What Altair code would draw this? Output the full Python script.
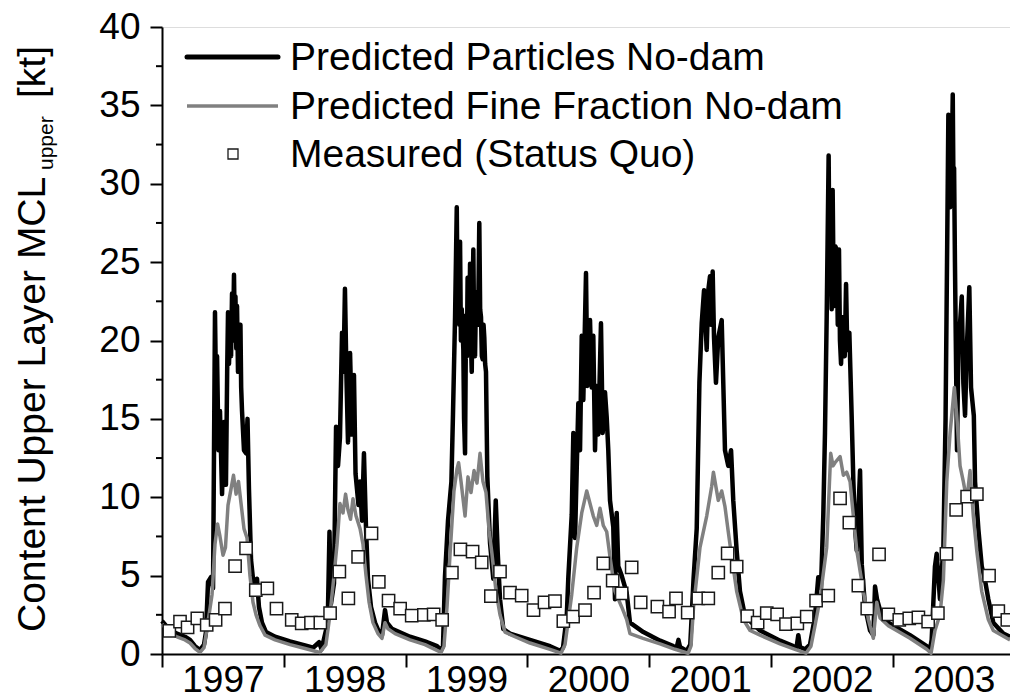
import altair as alt
import pandas as pd

# ---------------- data ----------------
# Predicted Particles No-dam (black)
black_t = [
    1997.000, 1997.066, 1997.123, 1997.189, 1997.230, 1997.271, 1997.312, 1997.345, 1997.361, 1997.378,
    1997.402, 1997.419, 1997.435, 1997.443, 1997.452, 1997.464, 1997.476, 1997.493, 1997.509, 1997.525,
    1997.535, 1997.542, 1997.550, 1997.558, 1997.567, 1997.575, 1997.583, 1997.591, 1997.597, 1997.603,
    1997.610, 1997.616, 1997.624, 1997.632, 1997.644, 1997.650, 1997.657, 1997.673, 1997.690, 1997.702,
    1997.714, 1997.731, 1997.747, 1997.764, 1997.780, 1997.796, 1997.821, 1997.854, 1997.928,
    1998.051, 1998.174, 1998.240, 1998.290, 1998.310, 1998.346, 1998.363, 1998.375, 1998.387, 1998.412,
    1998.429, 1998.445, 1998.461, 1998.478, 1998.490, 1998.502, 1998.515, 1998.527, 1998.544, 1998.560,
    1998.576, 1998.589, 1998.601, 1998.613, 1998.626, 1998.642, 1998.658, 1998.675, 1998.691, 1998.716,
    1998.749, 1998.782, 1998.806, 1998.831, 1998.847, 1998.888, 1999.036, 1999.159, 1999.258, 1999.291,
    1999.307, 1999.323, 1999.348, 1999.376, 1999.389, 1999.406, 1999.420, 1999.427, 1999.435, 1999.441,
    1999.447, 1999.454, 1999.461, 1999.474, 1999.480, 1999.488, 1999.496, 1999.503, 1999.509, 1999.515,
    1999.522, 1999.529, 1999.536, 1999.543, 1999.550, 1999.556, 1999.563, 1999.570, 1999.577, 1999.584,
    1999.595, 1999.605, 1999.612, 1999.619, 1999.626, 1999.633, 1999.640, 1999.646, 1999.653, 1999.660,
    1999.671, 1999.693, 1999.720, 1999.740, 1999.756, 1999.775, 1999.802, 1999.857, 2000.021, 2000.186,
    2000.268,
    2000.292, 2000.323, 2000.336, 2000.364, 2000.377, 2000.391, 2000.418, 2000.432, 2000.446, 2000.459,
    2000.481, 2000.492, 2000.514, 2000.528, 2000.541, 2000.555, 2000.569, 2000.582, 2000.604, 2000.618,
    2000.637, 2000.651, 2000.664, 2000.678, 2000.705, 2000.719, 2000.733, 2000.746, 2000.774, 2000.815,
    2000.842, 2000.952, 2001.089, 2001.198, 2001.225, 2001.240, 2001.253, 2001.308,
    2001.337, 2001.364, 2001.390, 2001.412, 2001.431, 2001.450, 2001.472, 2001.485, 2001.499, 2001.510,
    2001.521, 2001.532, 2001.548, 2001.567, 2001.595, 2001.608, 2001.622, 2001.649, 2001.672, 2001.690,
    2001.718, 2001.745, 2001.787, 2001.910, 2002.074, 2002.183, 2002.209, 2002.224, 2002.238, 2002.279,
    2002.320, 2002.361, 2002.388, 2002.410, 2002.429, 2002.443, 2002.457, 2002.473, 2002.481, 2002.490,
    2002.498, 2002.506, 2002.513, 2002.519, 2002.529, 2002.539, 2002.548, 2002.558, 2002.566, 2002.575,
    2002.584, 2002.594, 2002.605, 2002.616, 2002.626, 2002.643, 2002.662, 2002.676, 2002.690, 2002.704,
    2002.731, 2002.745, 2002.772, 2002.813, 2002.840, 2002.854, 2002.870, 2002.909, 2002.963, 2003.141,
    2003.278, 2003.305,
    2003.319, 2003.346, 2003.360, 2003.387, 2003.415, 2003.433, 2003.445, 2003.456, 2003.461, 2003.466,
    2003.470, 2003.474, 2003.478, 2003.482, 2003.492, 2003.497, 2003.503, 2003.510, 2003.517, 2003.527,
    2003.538, 2003.566, 2003.579, 2003.593, 2003.607, 2003.628, 2003.642, 2003.665, 2003.675, 2003.703,
    2003.730, 2003.757, 2003.784, 2003.825, 2003.907, 2003.962,
]
black_v = [
    2.1, 1.5, 1.3, 1.1, 0.9, 0.5, 0.25, 0.6, 1.4, 4.6,
    4.9, 4.2, 21.8, 17.0, 19.0, 13.0, 15.5, 10.2, 14.8, 10.8,
    18.0, 21.8, 18.5, 20.5, 19.0, 23.0, 20.0, 24.2, 21.0, 22.8,
    19.5, 22.2, 18.0, 20.5, 21.0, 17.0, 15.5, 13.0, 12.8, 15.0,
    10.5, 6.0, 4.8, 4.0, 4.8, 3.0, 2.0, 1.4, 1.1,
    0.8, 0.55, 0.4, 0.75, 0.3, 1.5, 3.0, 7.8, 3.2, 4.5,
    14.5, 12.0, 13.8, 20.5, 18.0, 23.3, 17.5, 13.5, 19.2, 14.0,
    17.8, 11.5, 10.5, 9.5, 11.0, 8.5, 12.8, 8.0, 4.8, 3.0,
    2.0, 1.4, 1.2, 2.8, 2.0, 1.6, 1.1, 0.8, 0.5, 0.25,
    0.5, 4.9, 8.5, 11.0, 15.3, 21.5, 28.5, 22.0, 25.3, 21.0,
    26.3, 20.0, 22.0, 19.4, 15.0, 12.8, 21.6, 19.0, 24.0, 22.6,
    19.5, 24.9, 20.0, 18.0, 23.0, 25.8, 20.0, 19.0, 22.5, 23.1,
    21.0, 27.5, 22.0, 21.5, 19.0, 18.8, 21.0, 20.2, 18.5, 18.0,
    11.3, 7.1, 4.8, 9.8, 6.5, 3.5, 1.6, 1.3, 0.9, 0.5,
    0.2,
    0.4, 2.4, 4.9, 8.9, 14.1, 7.4, 16.0, 13.0, 20.3, 16.2,
    24.3, 17.1, 21.3, 17.0, 20.3, 13.0, 17.1, 14.0, 21.1, 14.1,
    16.7, 15.1, 13.0, 9.8, 8.1, 3.5, 9.0, 5.6, 5.0, 3.9,
    2.0, 1.4, 0.85, 0.5, 0.4, 0.9, 0.45, 0.2,
    0.6, 4.8, 8.0, 17.3, 21.1, 23.2, 19.4, 23.2, 24.1, 21.0,
    24.4, 20.2, 17.3, 20.2, 21.3, 17.3, 13.0, 12.0, 13.0, 9.8,
    6.6, 4.0, 2.4, 1.5, 0.85, 0.5, 0.4, 1.2, 0.45, 0.3,
    0.6, 2.4, 4.9, 4.2, 8.8, 14.1, 21.5, 31.8, 24.0, 25.8,
    22.0, 29.6, 24.0, 22.2, 26.0, 25.8, 21.0, 25.8, 20.0, 18.5,
    20.5, 21.5, 19.0, 23.6, 19.4, 20.5, 15.2, 11.0, 8.0, 6.6,
    11.7, 5.7, 3.0, 1.5, 1.2, 4.3, 3.5, 2.4, 2.0, 1.2,
    0.5, 0.3,
    0.9, 5.6, 6.4, 3.5, 6.8, 15.0, 25.0, 34.4, 29.0, 31.0,
    28.5, 33.0, 29.5, 30.0, 35.7, 30.5, 31.0, 25.0, 20.0, 13.0,
    19.4, 22.8, 17.3, 15.2, 19.4, 23.4, 17.0, 15.2, 11.0, 7.9,
    5.6, 4.7, 3.5, 2.0, 1.3, 1.1,
]

# Predicted Fine Fraction No-dam (grey)
grey_t = [
    1997.000, 1997.066, 1997.123, 1997.189, 1997.230, 1997.271, 1997.312, 1997.345, 1997.369, 1997.411,
    1997.435, 1997.456, 1997.476, 1997.501, 1997.521, 1997.542, 1997.566, 1997.587, 1997.608, 1997.628,
    1997.649, 1997.673, 1997.698, 1997.722, 1997.747, 1997.772, 1997.805, 1997.846, 1997.928, 1998.051,
    1998.174, 1998.297,
    1998.346, 1998.379, 1998.412, 1998.437, 1998.461, 1998.486, 1998.507, 1998.527, 1998.548, 1998.568,
    1998.593, 1998.626, 1998.650, 1998.675, 1998.700, 1998.732, 1998.773, 1998.806, 1998.831, 1998.856,
    1998.913, 1999.036, 1999.159, 1999.291,
    1999.315, 1999.340, 1999.365, 1999.397, 1999.422, 1999.435, 1999.455, 1999.488, 1999.512, 1999.537,
    1999.562, 1999.586, 1999.611, 1999.635, 1999.660, 1999.685, 1999.709, 1999.742, 1999.775, 1999.816,
    1999.898, 2000.021, 2000.186, 2000.276,
    2000.309, 2000.333, 2000.364, 2000.405, 2000.446, 2000.487, 2000.514, 2000.541, 2000.569, 2000.596,
    2000.623, 2000.651, 2000.678, 2000.719, 2000.774, 2000.815, 2000.842, 2000.949, 2001.089, 2001.212,
    2001.319,
    2001.343, 2001.364, 2001.417, 2001.472, 2001.513, 2001.527, 2001.567, 2001.595, 2001.622, 2001.649,
    2001.677, 2001.718, 2001.773, 2001.828, 2001.910, 2002.074, 2002.197, 2002.287,
    2002.328, 2002.361, 2002.402, 2002.457, 2002.490, 2002.509, 2002.525, 2002.567, 2002.594, 2002.621,
    2002.649, 2002.676, 2002.704, 2002.758, 2002.799, 2002.840, 2002.868, 2002.895, 2002.963, 2003.141,
    2003.278, 2003.314,
    2003.346, 2003.387, 2003.415, 2003.443, 2003.470, 2003.505, 2003.525, 2003.552, 2003.579, 2003.607,
    2003.634, 2003.661, 2003.689, 2003.730, 2003.784, 2003.825, 2003.962,
]
grey_v = [
    1.9, 1.3, 1.1, 0.9, 0.7, 0.35, 0.1, 0.4, 1.6, 3.8,
    7.0, 8.3, 7.5, 6.3, 6.8, 9.5, 10.5, 11.4, 10.2, 11.0,
    9.6, 8.0, 7.4, 5.0, 3.3, 2.5, 1.8, 1.2, 0.9, 0.6,
    0.35, 0.1,
    0.6, 2.5, 5.0, 7.0, 9.6, 9.0, 10.2, 9.2, 8.6, 9.9,
    8.8, 8.0, 7.0, 5.0, 3.3, 2.0, 1.3, 1.0, 2.0, 1.6,
    1.3, 0.9, 0.6, 0.1,
    0.5, 3.0, 6.4, 10.4, 11.8, 12.2, 11.0, 8.8, 11.3, 10.3,
    11.7, 10.9, 12.8, 11.0, 10.3, 7.9, 6.4, 4.0, 2.5, 1.4,
    1.1, 0.7, 0.3, 0.05,
    0.6, 2.0, 3.8, 6.8, 9.0, 10.4, 9.6, 8.8, 8.2, 9.3,
    8.2, 7.8, 6.2, 4.0, 3.0, 2.2, 1.3, 1.0, 0.65, 0.3,
    0.05,
    0.5, 3.0, 6.8, 8.8, 10.7, 11.6, 9.8, 10.4, 9.4, 7.8,
    6.2, 4.0, 2.2, 1.5, 1.2, 0.65, 0.3, 0.05,
    0.5, 1.8, 3.5, 6.8, 12.8, 12.0, 12.2, 12.6, 11.4, 11.6,
    11.0, 8.8, 6.6, 4.0, 2.2, 1.0, 3.3, 2.3, 1.8, 1.0,
    0.3, 0.05,
    1.5, 2.5, 4.7, 11.0, 14.1, 17.0, 15.2, 12.0, 11.0, 9.8,
    11.7, 8.8, 6.6, 4.0, 2.2, 1.5, 0.9,
]

# Measured (Status Quo)
meas_t = [
    1997.06, 1997.148, 1997.21, 1997.29, 1997.367, 1997.44, 1997.517, 1997.60, 1997.69, 1997.77,
    1997.865, 1997.94, 1998.065, 1998.147, 1998.223, 1998.30, 1998.38, 1998.456, 1998.53, 1998.61,
    1998.72, 1998.78, 1998.86, 1998.955, 1999.05, 1999.15, 1999.23, 1999.30, 1999.38, 1999.45,
    1999.55, 1999.625, 1999.70, 1999.775, 1999.857, 1999.953, 2000.05, 2000.14, 2000.226, 2000.295,
    2000.375, 2000.473, 2000.547, 2000.623, 2000.70, 2000.774, 2000.856, 2000.93, 2001.067, 2001.163,
    2001.22, 2001.316, 2001.403, 2001.485, 2001.567, 2001.644, 2001.718, 2001.805, 2001.89, 2001.965,
    2002.05, 2002.123, 2002.216, 2002.293, 2002.37, 2002.47, 2002.567, 2002.643, 2002.717, 2002.79,
    2002.887, 2002.963, 2003.053, 2003.135, 2003.21, 2003.29, 2003.37, 2003.44, 2003.52, 2003.61,
    2003.69, 2003.79, 2003.866, 2003.94,
]
meas_v = [
    1.47, 2.06, 1.70, 2.28, 1.85, 2.17, 2.9, 5.6, 6.74, 4.08,
    4.19, 2.9, 2.17, 1.96, 2.0, 2.0, 2.6, 5.25, 3.55, 6.2,
    7.7, 4.6, 3.4, 2.9, 2.45, 2.5, 2.53, 2.17, 5.19, 6.68,
    6.53, 5.85, 3.7, 5.25, 3.91, 3.72, 2.8, 3.3, 3.38, 2.1,
    2.38, 2.8, 3.91, 5.78, 4.68, 3.87, 5.53, 3.3, 3.02, 2.7,
    3.55, 2.64, 3.55, 3.55, 5.19, 6.42, 5.57, 2.42, 2.0, 2.6,
    2.53, 1.91, 1.96, 2.38, 3.4, 3.72, 9.93, 8.38, 4.36, 2.9,
    6.36, 2.53, 2.17, 2.28, 2.34, 2.06, 2.6, 6.38, 9.19, 10.04,
    10.2, 5.0, 2.74, 2.17,
]

years = [1997, 1998, 1999, 2000, 2001, 2002, 2003]
y_major = [0, 5, 10, 15, 20, 25, 30, 35, 40]
y_minor = [2.5, 7.5, 12.5, 17.5, 22.5, 27.5, 32.5, 37.5]
legend_labels = ["Predicted Particles No-dam", "Predicted Fine Fraction No-dam", "Measured (Status Quo)"]

FONT = "Liberation Sans"
X_MIN, X_MAX = 1997.0, 2003.962

# ---------------- chart ----------------
black_df = pd.DataFrame({"t": black_t, "v": black_v})
grey_df = pd.DataFrame({"t": grey_t, "v": grey_v})
meas_df = pd.DataFrame({"t": meas_t, "v": meas_v})
minor_df = pd.DataFrame({"v": y_minor})

xscale = alt.Scale(domain=[X_MIN, X_MAX], nice=False, zero=False)
yscale = alt.Scale(domain=[0, 40], nice=False, zero=True)

x_axis = alt.Axis(
    values=years, format="d", title=None, grid=False,
    domainColor="black", domainWidth=2, tickColor="black", tickWidth=2, tickSize=13,
    labelFont=FONT, labelFontSize=37, labelColor="black", labelPadding=-5,
    labelOffset=60.9, labelFlush=False, labelOverlap=False, labelBound=False,
)
y_axis = alt.Axis(
    values=y_major, title=None, grid=False,
    domainColor="black", domainWidth=2, tickColor="black", tickWidth=2, tickSize=12,
    labelFont=FONT, labelFontSize=37, labelColor="black", labelPadding=10,
)

X = alt.X("t:Q", scale=xscale, axis=x_axis)
Y = alt.Y("v:Q", scale=yscale, axis=y_axis)

black_line = alt.Chart(black_df).mark_line(color="black", strokeWidth=4.5, strokeJoin="round").encode(x=X, y=Y)
grey_line = alt.Chart(grey_df).mark_line(color="#808080", strokeWidth=3.5, strokeJoin="round").encode(
    x=alt.X("t:Q", scale=xscale), y=alt.Y("v:Q", scale=yscale))
meas_pts = alt.Chart(meas_df).mark_point(
    shape="square", size=150, filled=True, fill="white", stroke="#1a1a1a", strokeWidth=1.5, opacity=1
).encode(x=alt.X("t:Q", scale=xscale), y=alt.Y("v:Q", scale=yscale))

minor_ticks = alt.Chart(minor_df).mark_rule(color="black", strokeWidth=2).encode(
    y=alt.Y("v:Q", scale=yscale), x=alt.value(-6), x2=alt.value(0))

# legend (manual)
leg_black = alt.Chart(pd.DataFrame({"a": [0]})).mark_rule(color="black", strokeWidth=5, strokeCap="round").encode(
    x=alt.value(25), x2=alt.value(116), y=alt.value(30))
leg_grey = alt.Chart(pd.DataFrame({"a": [0]})).mark_rule(color="#808080", strokeWidth=3.5).encode(
    x=alt.value(25), x2=alt.value(116), y=alt.value(79))
leg_sq = alt.Chart(pd.DataFrame({"a": [0]})).mark_point(
    shape="square", size=100, filled=True, fill="white", stroke="#1a1a1a", strokeWidth=1.3, opacity=1
).encode(x=alt.value(71), y=alt.value(127))
leg_text = alt.Chart(pd.DataFrame({"label": legend_labels, "yy": [30, 79, 127]})).mark_text(
    font=FONT, fontSize=39, align="left", baseline="middle", color="black", dy=1
).encode(x=alt.value(128), y=alt.Y("yy:Q", scale=None), text="label:N")

# y title with subscript
ttl_main = alt.Chart(pd.DataFrame({"s": ["Content Upper Layer MCL"]})).mark_text(
    font=FONT, fontSize=39, angle=270, align="left", baseline="alphabetic", color="black"
).encode(x=alt.value(-117), y=alt.value(605), text="s:N")
ttl_sub = alt.Chart(pd.DataFrame({"s": ["upper"]})).mark_text(
    font=FONT, fontSize=21, angle=270, align="left", baseline="alphabetic", color="black"
).encode(x=alt.value(-109), y=alt.value(143), text="s:N")
ttl_unit = alt.Chart(pd.DataFrame({"s": ["[kt]"]})).mark_text(
    font=FONT, fontSize=39, angle=270, align="left", baseline="alphabetic", color="black"
).encode(x=alt.value(-117), y=alt.value(71), text="s:N")

chart = alt.layer(
    black_line, grey_line, meas_pts, minor_ticks,
    leg_black, leg_grey, leg_sq, leg_text,
    ttl_main, ttl_sub, ttl_unit,
).properties(
    width=848, height=627,
    autosize=alt.AutoSizeParams(type="none"),
    padding={"left": 162, "top": 27, "right": 0, "bottom": 44},
).configure_view(stroke=None).configure(background="white")

chart.save("out.html", embed_options={"renderer": "svg", "actions": False})
